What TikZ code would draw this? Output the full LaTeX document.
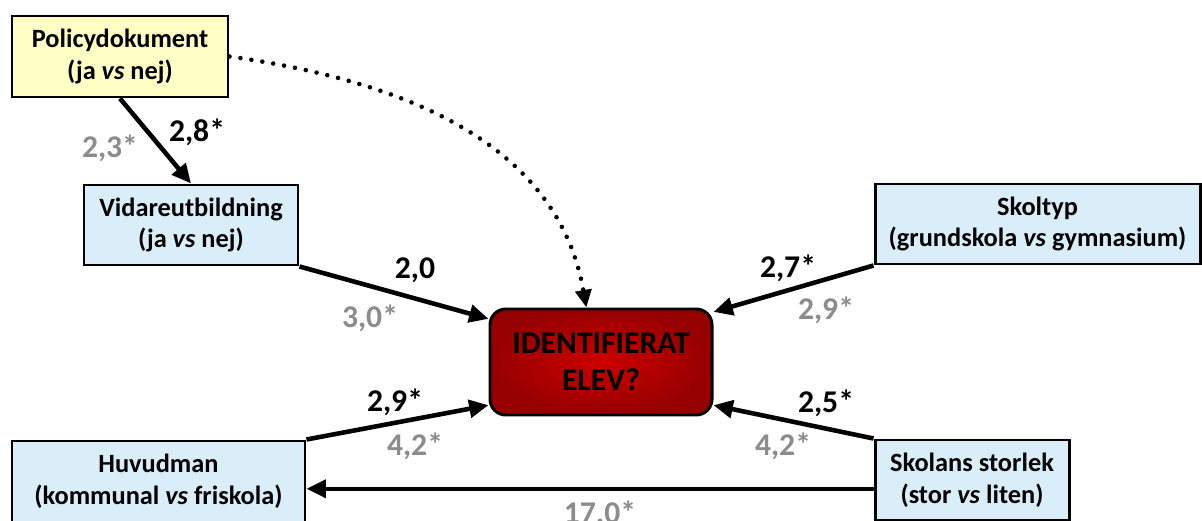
\documentclass[tikz,border=0pt]{standalone}
\usepackage{fontspec}
\setmainfont{Carlito}
\usetikzlibrary{arrows.meta}
\definecolor{polyellow}{RGB}{255,255,197}
\definecolor{boxblue}{RGB}{218,238,250}
\definecolor{lblgray}{RGB}{140,140,140}
\definecolor{redin}{RGB}{204,0,0}
\definecolor{redout}{RGB}{150,0,0}
\begin{document}
\begin{tikzpicture}[
	box/.style={draw,line width=1.7pt,align=center,inner sep=2pt,
		font=\bfseries\fontsize{15}{18}\selectfont},
	result/.style={draw,line width=1.7pt,rounded corners=9pt,align=center,
		inner color=redin,outer color=redout,
		minimum width=4.44cm,minimum height=2.12cm,
		font=\bfseries\fontsize{18}{21}\selectfont},
	effect/.style={line width=2.6pt,-{Triangle[length=11pt,width=10pt]}},
	lblk/.style={font=\bfseries\fontsize{18}{21}\selectfont},
	lblg/.style={lblk,text=lblgray}]
	\useasboundingbox (0,0) rectangle (24.04,10.42);
	% variables
	\node[box,fill=polyellow,minimum width=4.32cm,minimum height=1.62cm]	(pol) at (2.4,9.29)	{Policydokument\\(ja \textit{vs} nej)};
	\node[box,fill=boxblue,minimum width=4.28cm,minimum height=1.6cm]	(vid) at (3.82,5.92)	{Vidareutbildning\\(ja \textit{vs} nej)};
	\node[box,fill=boxblue,minimum width=6.5cm,minimum height=1.6cm]	(skt) at (20.75,5.94)	{Skoltyp\\(grundskola \textit{vs} gymnasium)};
	\node[box,fill=boxblue,minimum width=5.86cm,minimum height=1.62cm]	(huv) at (3.17,0.79)	{Huvudman\\(kommunal \textit{vs} friskola)};
	\node[box,fill=boxblue,minimum width=3.88cm,minimum height=1.6cm]	(sto) at (19.44,0.82)	{Skolans storlek\\(stor \textit{vs} liten)};
	\node[result]	(cen) at (12.02,3.18)	{IDENTIFIERAT\\ELEV?};
	% effects
	\draw[effect]	(pol.south) -- (vid.north);
	\draw[effect]	(vid.south east) -- (cen.159);
	\draw[effect]	(skt.south west) -- (cen.24);
	\draw[effect]	(huv.north east) -- (cen.201);
	\draw[effect]	(sto.north west) -- (cen.339);
	\coordinate (s) at ([yshift=-5pt]sto.west);
	\draw[effect]	(s) -- (s -| huv.east);
	\draw[line width=2.6pt,dash pattern=on 0pt off 6.3pt,line cap=round,-{Triangle[length=10pt,width=9pt]}]
		(pol.east) to[out=-8,in=100] (cen.105);
	% odds ratios
	\node[lblk]	at (3.94,7.78)	{2,8*};
	\node[lblg]	at (2.2,7.46)	{2,3*};
	\node[lblk]	at (8.3,5.02)	{2,0};
	\node[lblg]	at (7.4,4.06)	{3,0*};
	\node[lblk]	at (15.76,5.06)	{2,7*};
	\node[lblg]	at (16.52,4.22)	{2,9*};
	\node[lblk]	at (7.9,2.38)	{2,9*};
	\node[lblg]	at (8.3,1.5)	{4,2*};
	\node[lblk]	at (16.52,2.36)	{2,5*};
	\node[lblg]	at (15.66,1.5)	{4,2*};
	\node[lblg]	at (12.0,0.18)	{17.0*};
\end{tikzpicture}
\end{document}
